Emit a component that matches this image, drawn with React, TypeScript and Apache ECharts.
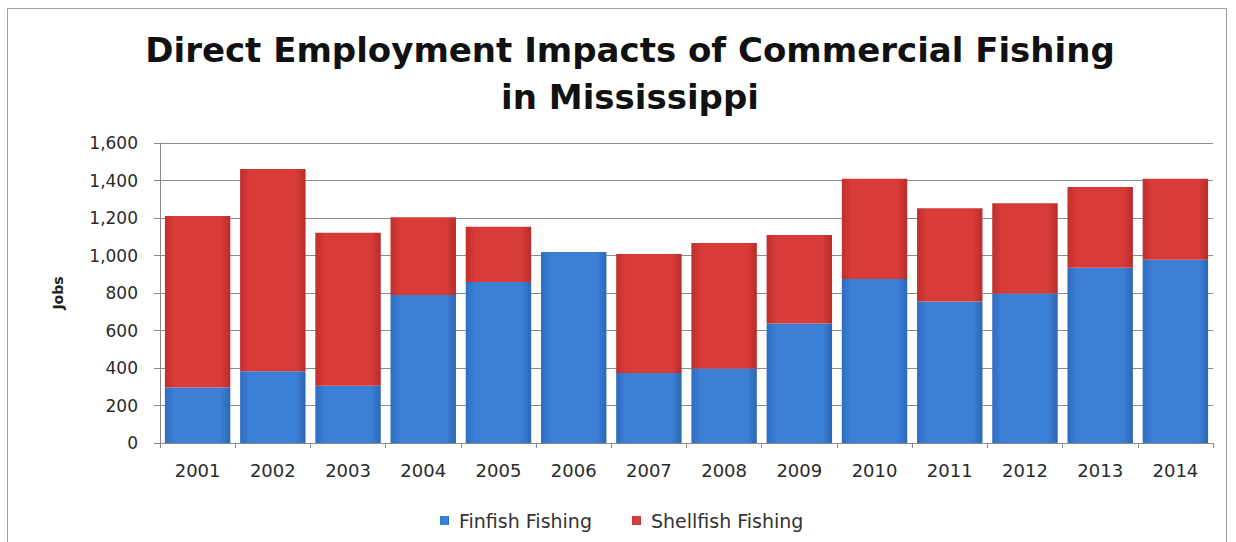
import React, { useEffect, useRef } from "react";
import * as echarts from "echarts";

const years = ["2001", "2002", "2003", "2004", "2005", "2006", "2007", "2008", "2009", "2010", "2011", "2012", "2013", "2014"];
const finfish = [296, 383, 305, 789, 859, 1019, 374, 397, 638, 875, 755, 798, 935, 978];
const shellfish = [915, 1078, 816, 415, 294, 0, 634, 670, 472, 534, 497, 481, 430, 431];
const yTicks = [0, 200, 400, 600, 800, 1000, 1200, 1400, 1600];

const FONT = "'DejaVu Sans', sans-serif";

const blueGrad = new echarts.graphic.LinearGradient(0, 0, 1, 0, [
  { offset: 0, color: "#2f6dbf" },
  { offset: 0.15, color: "#3b80d6" },
  { offset: 0.85, color: "#3b80d6" },
  { offset: 1, color: "#2d66b5" },
]);
const redGrad = new echarts.graphic.LinearGradient(0, 0, 1, 0, [
  { offset: 0, color: "#c02f2c" },
  { offset: 0.15, color: "#d83c38" },
  { offset: 0.85, color: "#d83c38" },
  { offset: 1, color: "#b82c2a" },
]);

export default function App() {
  const ref = useRef<HTMLDivElement>(null);
  useEffect(() => {
    if (!ref.current) return;
    const chart = echarts.init(ref.current, null, { renderer: "svg" });
    chart.setOption({
      animation: false,
      backgroundColor: "#ffffff",
      title: {
        text: "Direct Employment Impacts of Commercial Fishing\nin Mississippi",
        left: 625,
        textAlign: "center",
        top: 21,
        textStyle: {
          fontFamily: FONT,
          fontWeight: "bold",
          fontSize: 34,
          lineHeight: 47,
          color: "#111111",
        },
      },
      graphic: [
        {
          type: "rect",
          shape: { x: 7.5, y: 8.5, width: 1219, height: 560 },
          style: { fill: "none", stroke: "#a0a0a0", lineWidth: 1 },
          silent: true,
        },
      ],
      legend: {
        data: ["Finfish Fishing", "Shellfish Fishing"],
        left: 435,
        top: 506,
        itemWidth: 9,
        itemHeight: 9,
        itemGap: 40,
        icon: "rect",
        textStyle: { fontFamily: FONT, fontSize: 19, color: "#333333", padding: [0, 0, 0, 5] },
      },
      grid: { left: 160, right: 23, top: 143, bottom: 99 },
      xAxis: {
        type: "category",
        data: years,
        axisLine: { lineStyle: { color: "#8a8a8a", width: 1 } },
        axisTick: { show: true, length: 5, lineStyle: { color: "#8a8a8a" } },
        axisLabel: { fontFamily: FONT, fontSize: 18, color: "#2a2a2a", margin: 18 },
      },
      yAxis: {
        type: "value",
        min: 0,
        max: 1600,
        interval: 200,
        name: "Jobs",
        nameLocation: "middle",
        nameGap: 95,
        nameTextStyle: { fontFamily: FONT, fontSize: 14, fontWeight: "bold", color: "#222" },
        axisLine: { show: true, lineStyle: { color: "#8a8a8a" } },
        axisTick: { show: true, length: 6, lineStyle: { color: "#8a8a8a" } },
        axisLabel: {
          fontFamily: FONT,
          fontSize: 17,
          color: "#2a2a2a",
          margin: 22,
          formatter: (v: number) => (yTicks.includes(v) ? v.toLocaleString("en-US") : ""),
        },
        splitLine: { lineStyle: { color: "#8c8c8c", width: 1 } },
      },
      series: [
        {
          name: "Finfish Fishing",
          type: "bar",
          stack: "jobs",
          data: finfish,
          barCategoryGap: "13%",
          itemStyle: { color: blueGrad },
          emphasis: { disabled: true },
        },
        {
          name: "Shellfish Fishing",
          type: "bar",
          stack: "jobs",
          data: shellfish,
          barCategoryGap: "13%",
          itemStyle: { color: redGrad },
          emphasis: { disabled: true },
        },
      ],
    });
    return () => chart.dispose();
  }, []);
  return (
    <div
      ref={ref}
      style={{ position: "absolute", left: 0, top: 0, width: 1236, height: 542 }}
    />
  );
}
